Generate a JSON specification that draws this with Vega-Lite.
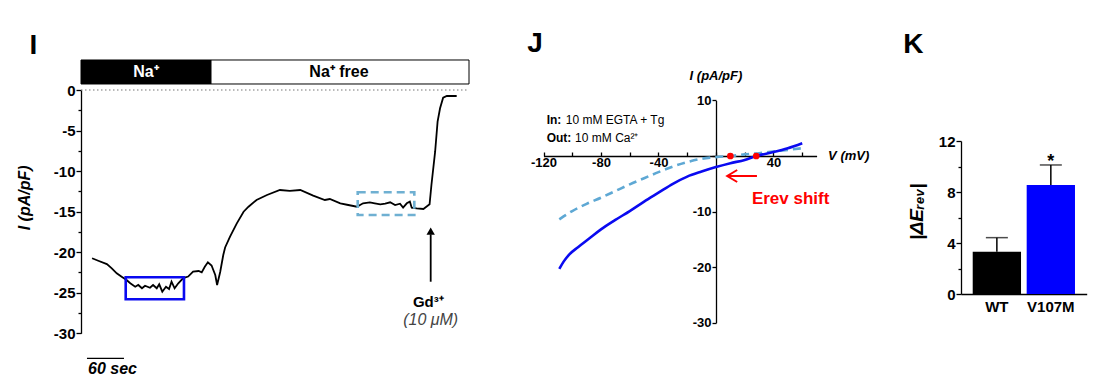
{
  "$schema": "https://vega.github.io/schema/vega-lite/v6.json",
  "width": 1094,
  "height": 377,
  "autosize": {"type": "none"},
  "padding": 0,
  "background": "white",
  "config": {
    "font": "Liberation Sans",
    "view": {"stroke": null},
    "axis": {"grid": false, "domainColor": "black", "tickColor": "black", "labelColor": "black", "domainWidth": 1.3, "tickWidth": 1.3, "labelFlush": false, "labelOverlap": false, "labelFont": "Liberation Sans"},
    "text": {"font": "Liberation Sans", "color": "black"}
  },
  "datasets": {
    "trace": [
      {"x":18,"y":-20.75},{"x":28,"y":-21.05},{"x":42,"y":-21.46},{"x":50,"y":-21.99},{"x":58,"y":-22.6},{"x":66,"y":-23.02},{"x":74,"y":-23.43},{"x":80,"y":-23.83},{"x":88,"y":-24.25},{"x":93,"y":-24.04},{"x":99,"y":-24.45},{"x":104,"y":-24.13},{"x":112,"y":-24.38},{"x":117,"y":-24.04},{"x":123,"y":-24.45},{"x":127,"y":-23.96},{"x":132,"y":-24.87},{"x":138,"y":-24.25},{"x":143,"y":-24.54},{"x":147,"y":-23.64},{"x":152,"y":-24.45},{"x":158,"y":-23.83},{"x":166,"y":-23.2},{"x":174,"y":-23.0},{"x":182,"y":-22.4},{"x":191,"y":-22.32},{"x":196,"y":-22.48},{"x":201,"y":-21.79},{"x":206,"y":-21.25},{"x":212,"y":-21.64},{"x":218,"y":-22.81},{"x":221,"y":-24.04},{"x":226,"y":-22.44},{"x":231,"y":-20.35},{"x":234,"y":-19.42},{"x":242,"y":-18.09},{"x":253,"y":-16.44},{"x":264,"y":-15.01},{"x":272,"y":-14.39},{"x":285,"y":-13.56},{"x":302,"y":-12.95},{"x":323,"y":-12.33},{"x":339,"y":-12.45},{"x":356,"y":-12.33},{"x":377,"y":-13.03},{"x":396,"y":-13.56},{"x":404,"y":-13.44},{"x":421,"y":-13.97},{"x":434,"y":-14.18},{"x":448,"y":-14.39},{"x":458,"y":-13.97},{"x":469,"y":-13.85},{"x":477,"y":-13.97},{"x":486,"y":-14.09},{"x":494,"y":-14.02},{"x":502,"y":-13.85},{"x":510,"y":-14.18},{"x":518,"y":-14.02},{"x":523,"y":-14.51},{"x":529,"y":-13.97},{"x":534,"y":-13.77},{"x":537,"y":-14.51},{"x":545,"y":-14.59},{"x":556,"y":-14.67},{"x":566,"y":-14.09},{"x":569,"y":-11.71},{"x":575,"y":-7.61},{"x":579,"y":-3.91},{"x":583,"y":-2.26},{"x":588,"y":-0.95},{"x":594,"y":-0.74},{"x":610,"y":-0.74}
    ],
    "naBar": [{"x":0,"x2":211.1,"y":3.7,"y2":0.74,"seg":"Na"},{"x":211.1,"x2":630,"y":3.7,"y2":0.74,"seg":"free"}],
    "naText": [{"x":105.5,"y":2.22,"label":"Na⁺","seg":"Na"},{"x":418.9,"y":2.22,"label":"Na⁺ free","seg":"free"}],
    "zeroLine": [{"x":0,"x2":630,"y":0}],
    "boxNa": [{"x":72.6,"x2":167.2,"y":-23.09,"y2":-25.8}],
    "boxFree": [{"x":449.3,"x2":541.2,"y":-12.61,"y2":-15.41}],
    "gdArrow": [{"x":567.8,"y":-23.64,"y2":-17.8}],
    "gdHead": [{"x":567.8,"y":-17.39}],
    "gdLabel": [{"x":564,"y":-26.1,"label":"Gd³⁺"}],
    "gdConc": [{"x":567.8,"y":-28.4,"label":"(10 μM)"}],
    "scaleBar": [{"x":9.7,"x2":69.8,"y":-33.1}],
    "scaleText": [{"x":11.4,"y":-34.4,"label":"60 sec"}],
    "iTitle": [{"x":-90.9,"y":-13.3,"label":"I (pA/pF)"}],
    "iLetter": [{"x":-77.4,"y":5.4,"label":"I"}],
    "ivSolid": [
      {"x":-109,"y":-20.3},{"x":-106,"y":-19.0},{"x":-102,"y":-17.7},{"x":-96,"y":-16.4},{"x":-88,"y":-14.8},{"x":-80,"y":-13.2},{"x":-70,"y":-11.5},{"x":-60,"y":-9.9},{"x":-50,"y":-8.2},{"x":-40,"y":-6.6},{"x":-30,"y":-5.0},{"x":-20,"y":-3.7},{"x":-10,"y":-2.8},{"x":0,"y":-2.0},{"x":10,"y":-1.3},{"x":20,"y":-0.7},{"x":28,"y":0},{"x":40,"y":0.7},{"x":50,"y":1.4},{"x":60,"y":2.3}
    ],
    "ivDashed": [
      {"x":-109,"y":-11.4},{"x":-100,"y":-9.9},{"x":-90,"y":-8.6},{"x":-80,"y":-7.5},{"x":-70,"y":-6.3},{"x":-60,"y":-5.1},{"x":-50,"y":-4.0},{"x":-40,"y":-2.9},{"x":-30,"y":-1.9},{"x":-20,"y":-1.1},{"x":-10,"y":-0.5},{"x":0,"y":-0.2},{"x":10,"y":0},{"x":20,"y":0.3},{"x":30,"y":0.5},{"x":40,"y":0.8},{"x":50,"y":1.1},{"x":60,"y":1.4}
    ],
    "erevDots": [{"x":10,"y":0},{"x":28,"y":0}],
    "erevArrow": [{"x":7.8,"x2":28.5,"y":-3.6}],
    "erevHead": [{"x":7.8,"y":-3.6}],
    "jTextBold": [{"x":-117.8,"y":6.5,"label":"In:"},{"x":-117.8,"y":3.2,"label":"Out:"}],
    "jTextNormal": [{"x":-104.5,"y":6.5,"label":"10 mM EGTA + Tg"},{"x":-98,"y":3.2,"label":"10 mM Ca²⁺"}],
    "iTitleJ": [{"x":0,"y":14.3,"label":"I (pA/pF)"}],
    "vTitle": [{"x":78,"y":0,"label":"V (mV)"}],
    "erevText": [{"x":25,"y":-7.8,"label":"Erev shift"}],
    "letters": [{"x":-125.9,"y":20.1,"label":"J"},{"x":137.4,"y":20.0,"label":"K"}],
    "kTitle": [{"x":139.6,"y":-10,"label":"|ΔEᵣₑᵥ|"}],
    "kBars": [{"g":"WT","y":3.32},{"g":"V107M","y":8.55}],
    "kErr": [{"g":"WT","y":4.42,"lo":3.32},{"g":"V107M","y":10.12,"lo":8.55}],
    "kStar": [{"g":"V107M","y":10.35,"label":"*"}]
  },
  "layer": [
    {
      "encoding": {
        "x": {"field": "x", "type": "quantitative", "scale": {"domain": [0, 630], "range": [81, 469], "nice": false, "zero": false}, "axis": null},
        "y": {"field": "y", "type": "quantitative", "scale": {"domain": [-30, 0], "range": [333.3, 90], "nice": false, "zero": false},
          "axis": {"orient": "left", "offset": -81, "title": null, "values": [-30,-27.5,-25,-22.5,-20,-17.5,-15,-12.5,-10,-7.5,-5,-2.5,0],
            "labelExpr": "datum.value % 5 === 0 ? '' + datum.value : ''",
            "tickSize": {"condition": {"test": "datum.value % 5 === 0", "value": 5}, "value": 3},
            "labelFontSize": 15, "labelFontWeight": "bold", "labelPadding": 1}}
      },
      "layer": [
        {"data": {"name": "naBar"}, "mark": {"type": "rect", "stroke": "black", "strokeWidth": 1},
          "encoding": {"x2": {"field": "x2"}, "y2": {"field": "y2"},
            "fill": {"condition": {"test": "datum.seg === 'Na'", "value": "black"}, "value": "white"}}},
        {"data": {"name": "naText"}, "mark": {"type": "text", "fontSize": 16, "fontWeight": "bold", "baseline": "middle", "align": "center"},
          "encoding": {"text": {"field": "label"},
            "color": {"condition": {"test": "datum.seg === 'Na'", "value": "white"}, "value": "black"}}},
        {"data": {"name": "zeroLine"}, "mark": {"type": "rule", "color": "#777777", "strokeWidth": 1.2, "strokeDash": [1.5, 2.5]},
          "encoding": {"x2": {"field": "x2"}}},
        {"data": {"name": "trace"}, "mark": {"type": "line", "color": "black", "strokeWidth": 1.8}, "encoding": {}},
        {"data": {"name": "boxNa"}, "mark": {"type": "rect", "fill": null, "fillOpacity": 0, "stroke": "#0a0af0", "strokeWidth": 2.6},
          "encoding": {"x2": {"field": "x2"}, "y2": {"field": "y2"}}},
        {"data": {"name": "boxFree"}, "mark": {"type": "rect", "fill": null, "fillOpacity": 0, "stroke": "#6fb0d2", "strokeWidth": 2.6, "strokeDash": [8, 5]},
          "encoding": {"x2": {"field": "x2"}, "y2": {"field": "y2"}}},
        {"data": {"name": "gdArrow"}, "mark": {"type": "rule", "color": "black", "strokeWidth": 1.8},
          "encoding": {"y2": {"field": "y2"}}},
        {"data": {"name": "gdHead"}, "mark": {"type": "point", "shape": "triangle-up", "filled": true, "color": "black", "opacity": 1, "size": 70}, "encoding": {}},
        {"data": {"name": "gdLabel"}, "mark": {"type": "text", "fontSize": 15, "fontWeight": "bold", "baseline": "middle", "align": "center"},
          "encoding": {"text": {"field": "label"}}},
        {"data": {"name": "gdConc"}, "mark": {"type": "text", "fontSize": 16, "fontStyle": "italic", "baseline": "middle", "align": "center", "color": "#444444"},
          "encoding": {"text": {"field": "label"}}},
        {"data": {"name": "scaleBar"}, "mark": {"type": "rule", "color": "black", "strokeWidth": 1.3},
          "encoding": {"x2": {"field": "x2"}}},
        {"data": {"name": "scaleText"}, "mark": {"type": "text", "fontSize": 16, "fontWeight": "bold", "fontStyle": "italic", "baseline": "middle", "align": "left"},
          "encoding": {"text": {"field": "label"}}},
        {"data": {"name": "iTitle"}, "mark": {"type": "text", "fontSize": 16, "fontWeight": "bold", "fontStyle": "italic", "baseline": "middle", "align": "center", "angle": 270},
          "encoding": {"text": {"field": "label"}}},
        {"data": {"name": "iLetter"}, "mark": {"type": "text", "fontSize": 28, "fontWeight": "bold", "baseline": "middle", "align": "center"},
          "encoding": {"text": {"field": "label"}}}
      ]
    },
    {
      "encoding": {
        "x": {"field": "x", "type": "quantitative", "scale": {"domain": [-120, 70], "range": [543.5, 816.6], "nice": false, "zero": false},
          "axis": {"orient": "bottom", "offset": -221, "title": null, "values": [-120,-100,-80,-60,-40,-20,0,20,40,60],
            "labelExpr": "datum.value % 40 === 0 && datum.value !== 0 ? '' + datum.value : ''",
            "tickSize": -4, "labelFontSize": 13, "labelFontWeight": "bold", "labelPadding": 4}},
        "y": {"field": "y", "type": "quantitative", "scale": {"domain": [-30, 10], "range": [322.8, 100.4], "nice": false, "zero": false},
          "axis": {"orient": "left", "offset": -716, "title": null, "values": [-30,-20,-10,0,10],
            "labelExpr": "datum.value !== 0 ? '' + datum.value : ''",
            "tickSize": 4, "labelFontSize": 13, "labelFontWeight": "bold", "labelPadding": 1}}
      },
      "layer": [
        {"data": {"name": "ivDashed"}, "mark": {"type": "line", "color": "#5ea8d4", "strokeWidth": 2.6, "strokeDash": [8, 5], "interpolate": "monotone"}, "encoding": {}},
        {"data": {"name": "ivSolid"}, "mark": {"type": "line", "color": "#0a0af0", "strokeWidth": 2.6, "interpolate": "monotone"}, "encoding": {}},
        {"data": {"name": "erevDots"}, "mark": {"type": "point", "filled": true, "color": "#ff0000", "opacity": 1, "size": 45}, "encoding": {}},
        {"data": {"name": "erevArrow"}, "mark": {"type": "rule", "color": "#ff0000", "strokeWidth": 2},
          "encoding": {"x2": {"field": "x2"}}},
        {"data": {"name": "erevHead"}, "mark": {"type": "point", "shape": "M2,-1.2L0,0L2,1.2", "filled": false, "color": "#ff0000", "opacity": 1, "strokeWidth": 2, "size": 100}, "encoding": {}},
        {"data": {"name": "jTextBold"}, "mark": {"type": "text", "fontSize": 12, "fontWeight": "bold", "baseline": "middle", "align": "left"},
          "encoding": {"text": {"field": "label"}}},
        {"data": {"name": "jTextNormal"}, "mark": {"type": "text", "fontSize": 12, "baseline": "middle", "align": "left"},
          "encoding": {"text": {"field": "label"}}},
        {"data": {"name": "iTitleJ"}, "mark": {"type": "text", "fontSize": 13, "fontWeight": "bold", "fontStyle": "italic", "baseline": "middle", "align": "center"},
          "encoding": {"text": {"field": "label"}}},
        {"data": {"name": "vTitle"}, "mark": {"type": "text", "fontSize": 13, "fontWeight": "bold", "fontStyle": "italic", "baseline": "middle", "align": "left"},
          "encoding": {"text": {"field": "label"}}},
        {"data": {"name": "erevText"}, "mark": {"type": "text", "fontSize": 17, "fontWeight": "bold", "baseline": "middle", "align": "left", "color": "#ff0000"},
          "encoding": {"text": {"field": "label"}}},
        {"data": {"name": "letters"}, "mark": {"type": "text", "fontSize": 28, "fontWeight": "bold", "baseline": "middle", "align": "center"},
          "encoding": {"text": {"field": "label"}}},
        {"data": {"name": "kTitle"}, "mark": {"type": "text", "fontSize": 19, "fontWeight": "bold", "fontStyle": "italic", "baseline": "middle", "align": "center", "angle": 270},
          "encoding": {"text": {"field": "label"}}}
      ]
    },
    {
      "encoding": {
        "x": {"field": "g", "type": "nominal", "scale": {"domain": ["WT", "V107M"], "range": [961, 1086.7], "paddingInner": 0.105, "paddingOuter": 0.217},
          "axis": {"orient": "bottom", "offset": -83, "title": null, "ticks": false, "labelAngle": 0, "labelFontSize": 15, "labelFontWeight": "bold", "labelPadding": 5}},
        "y": {"field": "y", "type": "quantitative", "scale": {"domain": [0, 12], "range": [294, 141], "nice": false},
          "axis": {"orient": "left", "offset": -961, "title": null, "values": [0,2,4,6,8,10,12],
            "labelExpr": "datum.value % 4 === 0 ? '' + datum.value : ''",
            "tickSize": {"condition": {"test": "datum.value % 4 === 0", "value": 5}, "value": 3},
            "labelFontSize": 15, "labelFontWeight": "bold", "labelPadding": 1}}
      },
      "layer": [
        {"data": {"name": "kBars"}, "mark": {"type": "bar"},
          "encoding": {"color": {"condition": {"test": "datum.g === 'WT'", "value": "black"}, "value": "#0000ff"}}},
        {"data": {"name": "kErr"}, "mark": {"type": "rule", "color": "black", "strokeWidth": 1.5},
          "encoding": {"y2": {"field": "lo"}}},
        {"data": {"name": "kErr"}, "mark": {"type": "tick", "color": "black", "thickness": 1.5, "size": 22, "orient": "horizontal"}, "encoding": {}},
        {"data": {"name": "kStar"}, "mark": {"type": "text", "fontSize": 18, "fontWeight": "bold", "baseline": "middle", "align": "center"},
          "encoding": {"text": {"field": "label"}}}
      ]
    }
  ],
  "resolve": {"scale": {"x": "independent", "y": "independent"}, "axis": {"x": "independent", "y": "independent"}}
}
